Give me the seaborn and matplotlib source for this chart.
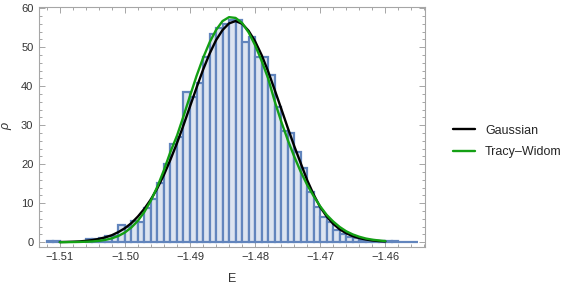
import numpy as np
import seaborn as sns
import matplotlib.pyplot as plt
from matplotlib.ticker import MultipleLocator

# histogram: left edge of every 0.001 bin and its density
bin_left = [-1.512, -1.511, -1.510, -1.509, -1.508, -1.507, -1.506, -1.505, -1.504, -1.503,
            -1.502, -1.501, -1.500, -1.499, -1.498, -1.497, -1.496, -1.495, -1.494, -1.493,
            -1.492, -1.491, -1.490, -1.489, -1.488, -1.487, -1.486, -1.485, -1.484, -1.483,
            -1.482, -1.481, -1.480, -1.479, -1.478, -1.477, -1.476, -1.475, -1.474, -1.473,
            -1.472, -1.471, -1.470, -1.469, -1.468, -1.467, -1.466, -1.465, -1.464, -1.463,
            -1.462, -1.461, -1.460, -1.459, -1.458, -1.457, -1.456]
density = [0.3, 0.3, 0, 0, 0, 0, 0.8, 0.8, 1.0, 1.6,
           1.6, 4.3, 3.8, 5.5, 5.3, 8.7, 11.2, 15.2, 20.0, 25.2,
           27.0, 38.4, 37.3, 40.8, 47.4, 53.3, 54.8, 55.9, 56.9, 56.9,
           51.2, 52.5, 47.4, 47.4, 42.8, 34.7, 28.5, 27.9, 23.2, 18.9,
           12.9, 9.1, 6.5, 5.2, 3.1, 2.2, 1.4, 1.0, 0.6, 0.5,
           0.35, 0.35, 0.2, 0.2, 0.1, 0.1, 0.1]
bin_width = 0.001

# fitted curves
curve_E = [-1.510, -1.509, -1.508, -1.507, -1.506, -1.505, -1.504, -1.503, -1.502, -1.501,
           -1.500, -1.499, -1.498, -1.497, -1.496, -1.495, -1.494, -1.493, -1.492, -1.491,
           -1.490, -1.489, -1.488, -1.487, -1.486, -1.485, -1.484, -1.483, -1.482, -1.481,
           -1.480, -1.479, -1.478, -1.477, -1.476, -1.475, -1.474, -1.473, -1.472, -1.471,
           -1.470, -1.469, -1.468, -1.467, -1.466, -1.465, -1.464, -1.463, -1.462, -1.461,
           -1.460]
gauss = [0.05, 0.08, 0.13, 0.2, 0.35, 0.55, 0.85, 1.25, 1.8, 2.6,
         3.6, 4.9, 6.6, 8.6, 11.0, 13.9, 17.3, 21.2, 25.4, 30.0,
         34.8, 39.6, 44.2, 48.3, 51.8, 54.4, 56.1, 56.7, 56.0, 54.2,
         51.5, 48.0, 43.8, 39.1, 34.3, 29.4, 24.7, 20.3, 15.9, 12.2,
         9.0, 6.6, 4.7, 3.3, 2.3, 1.55, 1.05, 0.7, 0.45, 0.3,
         0.2]
tracy_widom = [0.0, 0.02, 0.04, 0.07, 0.12, 0.2, 0.35, 0.6, 1.0, 1.6,
               2.5, 3.8, 5.5, 7.8, 10.7, 14.3, 18.5, 23.2, 27.3, 32.3,
               37.5, 42.6, 47.2, 51.2, 54.4, 56.7, 57.7, 57.5, 56.2, 53.8,
               50.5, 46.5, 42.0, 36.2, 31.0, 26.3, 22.0, 18.1, 14.7, 11.8,
               9.2, 7.0, 5.3, 3.9, 2.8, 2.0, 1.4, 0.95, 0.65, 0.45,
               0.3]

x_ticks = [-1.51, -1.50, -1.49, -1.48, -1.47, -1.46]
x_tick_labels = ["\u22121.51", "\u22121.50", "\u22121.49", "\u22121.48", "\u22121.47", "\u22121.46"]
y_ticks = [0, 10, 20, 30, 40, 50, 60]

sns.set_style("ticks")
plt.rcParams['font.family'] = ['Liberation Sans', 'DejaVu Sans']

fig = plt.figure(figsize=(5.81, 2.88), dpi=100)
ax = fig.add_axes([0.0671, 0.1434, 0.6644, 0.8323])

edges = bin_left + [bin_left[-1] + bin_width]
centers = [b + bin_width / 2 for b in bin_left]
sns.histplot(x=centers, weights=density, bins=edges, stat="count", ax=ax,
             color="#dce4f0", edgecolor="#6285bd", linewidth=1.6, alpha=1)
for p in ax.patches:
    if p.get_height() == 0:
        p.set_visible(False)

sns.lineplot(x=curve_E, y=gauss, color="black", linewidth=1.7, label="Gaussian", ax=ax)
sns.lineplot(x=curve_E, y=tracy_widom, color="#14a014", linewidth=1.7, label="Tracy\u2013Widom", ax=ax)

ax.set_xlim(-1.5132, -1.4539)
ax.set_ylim(-1.15, 60.3)
ax.set_xticks(x_ticks)
ax.set_xticklabels(x_tick_labels)
ax.set_yticks(y_ticks)
ax.xaxis.set_minor_locator(MultipleLocator(0.002))
ax.yaxis.set_minor_locator(MultipleLocator(2))

frame = "#a6a6a6"
for s in ax.spines.values():
    s.set_color(frame)
    s.set_linewidth(0.8)
ax.tick_params(which="both", direction="in", top=True, right=True, color=frame,
               labelsize=8, labelcolor="#333333", width=0.7)
ax.tick_params(which="major", length=4, pad=4)
ax.tick_params(which="minor", length=2)

ax.set_xlabel("E", fontsize=9, color="#333333", labelpad=8)
ax.set_ylabel("\u03c1", fontsize=9, color="#333333", style="italic", labelpad=6)

ax.legend(loc="center left", bbox_to_anchor=(0.769, 0.509), bbox_transform=fig.transFigure,
          frameon=False, fontsize=9, handlelength=1.75, handletextpad=0.8,
          labelspacing=0.75, borderpad=0)

fig.savefig("out.png", dpi=100)
